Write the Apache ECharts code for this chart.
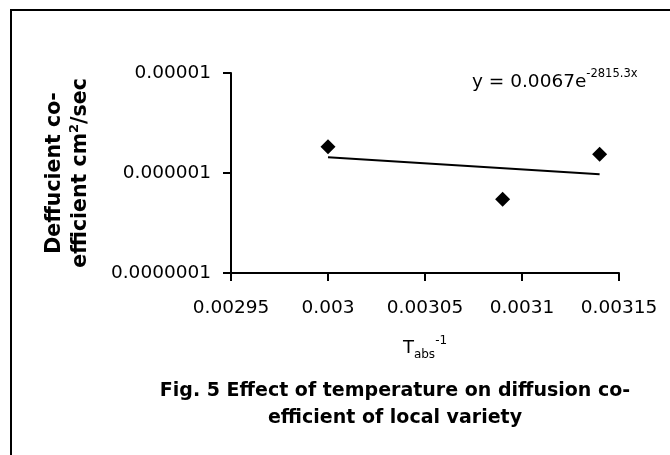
<!DOCTYPE html>
<html>
<head>
<meta charset="utf-8">
<script src="https://cdn.jsdelivr.net/npm/echarts@6/dist/echarts.min.js"></script>
<style>html,body{margin:0;padding:0;background:#fff}#c{width:670px;height:455px}</style>
</head>
<body>
<div id="c"></div>
<script>
// Data
var xValues = [0.003, 0.00309, 0.00314];
var yValues = [1.83e-6, 5.45e-7, 1.54e-6];
var trendX = [0.003, 0.00314];
var trendY = [1.44e-6, 9.7e-7];
var xTickLabels = ['0.00295', '0.003', '0.00305', '0.0031', '0.00315'];
var yTickLabels = ['0.0000001', '0.000001', '0.00001'];
var equationText = 'y = 0.0067e';
var equationExp = '-2815.3x';
var captionLines = ['Fig. 5 Effect of temperature on diffusion co-', 'efficient of local variety'];

var FONT = 'DejaVu Sans';
var chart = echarts.init(document.getElementById('c'), null, {renderer: 'canvas'});

var scatterData = xValues.map(function (x, i) { return [x, yValues[i]]; });
var trendData = trendX.map(function (x, i) { return [x, trendY[i]]; });

var option = {
  animation: false,
  backgroundColor: '#fff',
  grid: {left: 231, right: 51, top: 73, bottom: 182},
  xAxis: {
    type: 'value',
    min: 0.00295,
    max: 0.00315,
    interval: 0.00005,
    axisLine: {show: true, lineStyle: {color: '#000', width: 2}},
    axisTick: {show: true, inside: false, length: 8, lineStyle: {color: '#000', width: 2}},
    splitLine: {show: false},
    axisLabel: {
      margin: 26,
      color: '#000',
      fontFamily: FONT,
      fontSize: 18.5,
      formatter: function (v, i) { return xTickLabels[i]; }
    },
    name: 'T{sub|abs}{sup|-1}',
    nameLocation: 'middle',
    nameGap: 62,
    nameTextStyle: {
      color: '#000',
      fontFamily: FONT,
      fontSize: 18,
      lineHeight: 26,
      rich: {
        sub: {fontFamily: FONT, fontSize: 12, color: '#000', verticalAlign: 'bottom', lineHeight: 26},
        sup: {fontFamily: FONT, fontSize: 12, color: '#000', verticalAlign: 'top', lineHeight: 26}
      }
    }
  },
  yAxis: {
    type: 'log',
    logBase: 10,
    min: 1e-7,
    max: 1e-5,
    axisLine: {show: true, lineStyle: {color: '#000', width: 2}},
    axisTick: {show: true, inside: false, length: 8, lineStyle: {color: '#000', width: 2}},
    minorTick: {show: false},
    splitLine: {show: false},
    axisLabel: {
      margin: 20,
      color: '#000',
      fontFamily: FONT,
      fontSize: 18.5,
      formatter: function (v, i) { return yTickLabels[i]; }
    },
    name: 'Deffucient co-\nefficient cm{sup|2}/sec',
    nameLocation: 'middle',
    nameRotate: 90,
    nameGap: 137,
    nameTextStyle: {
      color: '#000',
      fontFamily: FONT,
      fontWeight: 'bold',
      fontSize: 20.5,
      lineHeight: 26,
      align: 'center',
      rich: {
        sup: {fontFamily: FONT, fontWeight: 'bold', fontSize: 13, color: '#000', verticalAlign: 'top', lineHeight: 26}
      }
    }
  },
  series: [
    {
      type: 'line',
      data: trendData,
      symbol: 'none',
      lineStyle: {color: '#000', width: 2},
      z: 2
    },
    {
      type: 'scatter',
      data: scatterData,
      symbol: 'diamond',
      symbolSize: 15,
      itemStyle: {color: '#000', opacity: 1},
      z: 3
    }
  ],
  graphic: [
    {
      type: 'polyline',
      shape: {points: [[11, 470], [11, 10], [680, 10]]},
      style: {stroke: '#000', lineWidth: 2, fill: null},
      silent: true
    },
    {
      type: 'text',
      x: 472,
      y: 82,
      style: {
        text: equationText + '{sup|' + equationExp + '}',
        fontFamily: FONT,
        fontSize: 18.5,
        fill: '#000',
        verticalAlign: 'middle',
        align: 'left',
        lineHeight: 28,
        rich: {
          sup: {fontFamily: FONT, fontSize: 11.5, fill: '#000', verticalAlign: 'top', lineHeight: 28}
        }
      }
    },
    {
      type: 'text',
      x: 395,
      y: 405,
      style: {
        text: captionLines.join('\n'),
        fontFamily: FONT,
        fontWeight: 'bold',
        fontSize: 19,
        lineHeight: 27,
        fill: '#000',
        align: 'center',
        verticalAlign: 'middle'
      }
    }
  ]
};
chart.setOption(option);
</script>
</body>
</html>
